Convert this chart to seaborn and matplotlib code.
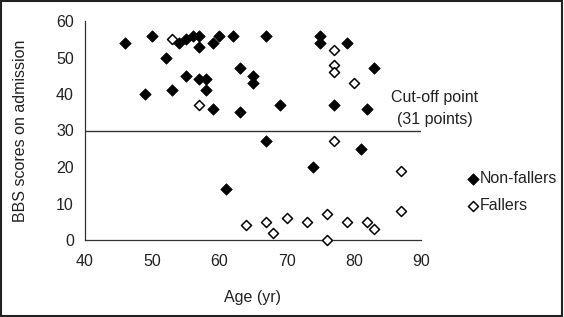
import matplotlib
matplotlib.use("Agg")
import matplotlib.pyplot as plt
import seaborn as sns
import pandas as pd
from matplotlib.patches import Rectangle

sns.set_style("white")
plt.rcParams['font.family'] = ['Liberation Sans', 'DejaVu Sans']

# Non-fallers
nf_age = [46, 50, 49, 52, 53, 54, 55, 55, 56, 57, 57, 57, 58, 58, 59, 59, 60, 62,
          63, 63, 65, 65, 67, 69, 67, 61, 75, 75, 79, 83, 77, 82, 81, 74]
nf_bbs = [54, 56, 40, 50, 41, 54, 55, 45, 56, 56, 53, 44, 44, 41, 54, 36, 56, 56,
          47, 35, 45, 43, 56, 37, 27, 14, 56, 54, 54, 47, 37, 36, 25, 20]
# Fallers
f_age = [53, 57, 77, 77, 77, 80, 77, 87, 87, 76, 70, 73, 79, 82, 83, 76, 64, 67, 68]
f_bbs = [55, 37, 52, 48, 46, 43, 27, 19, 8, 7, 6, 5, 5, 5, 3, 0, 4, 5, 2]

cutoff = 30
x_ticks = [40, 50, 60, 70, 80, 90]
y_ticks = [0, 10, 20, 30, 40, 50, 60]

nf = pd.DataFrame({"Age": nf_age, "BBS": nf_bbs})
fa = pd.DataFrame({"Age": f_age, "BBS": f_bbs})

fig = plt.figure(figsize=(5.64, 3.17), dpi=100)
ax = fig.add_axes([85/564, 1-240/317, (421-85)/564, (240-21)/317])

tc = '#222222'
fs = 11.5
sns.scatterplot(data=nf, x="Age", y="BBS", ax=ax, marker='D', color='black',
                edgecolor='black', s=34, linewidth=0.5, label='Non-fallers', clip_on=False, zorder=3)
sns.scatterplot(data=fa, x="Age", y="BBS", ax=ax, marker='D', color='white',
                edgecolor='black', s=26, linewidth=1.1, label='Fallers', clip_on=False, zorder=3)

ax.hlines(cutoff, 40, 90, color='#333333', linewidth=1.0, zorder=2)

ax.set_xlim(40, 90)
ax.set_ylim(0, 60)
ax.set_xticks(x_ticks)
ax.set_yticks(y_ticks)
ax.tick_params(direction='in', length=4, width=0.8, colors='#333333',
               labelsize=fs, labelcolor=tc, pad=8)
ax.tick_params(axis='x', pad=10)
for s in ['top', 'right']:
    ax.spines[s].set_visible(False)
for s in ['left', 'bottom']:
    ax.spines[s].set_color('#333333')
    ax.spines[s].set_linewidth(0.9)

ax.set_xlabel("Age (yr)", fontsize=fs, color=tc, labelpad=15)
ax.set_ylabel("BBS scores on admission", fontsize=fs, color=tc, labelpad=20)

ax.text(92, 39, "Cut-off point", ha='center', va='center', fontsize=fs, color=tc, clip_on=False)
ax.text(92, 33, "(31 points)", ha='center', va='center', fontsize=fs, color=tc, clip_on=False)

leg = ax.legend(loc='center left', bbox_to_anchor=(461/564, 1-192/317),
                bbox_transform=fig.transFigure, frameon=False, fontsize=fs,
                handlelength=0.55, handletextpad=0.15, labelspacing=0.75, borderpad=0)
for t in leg.get_texts():
    t.set_color(tc)

fig.add_artist(Rectangle((0.002, 0.003), 0.995, 0.994, transform=fig.transFigure,
                         fill=False, edgecolor='#222222', linewidth=1.5))

fig.savefig("out.png", dpi=100)
